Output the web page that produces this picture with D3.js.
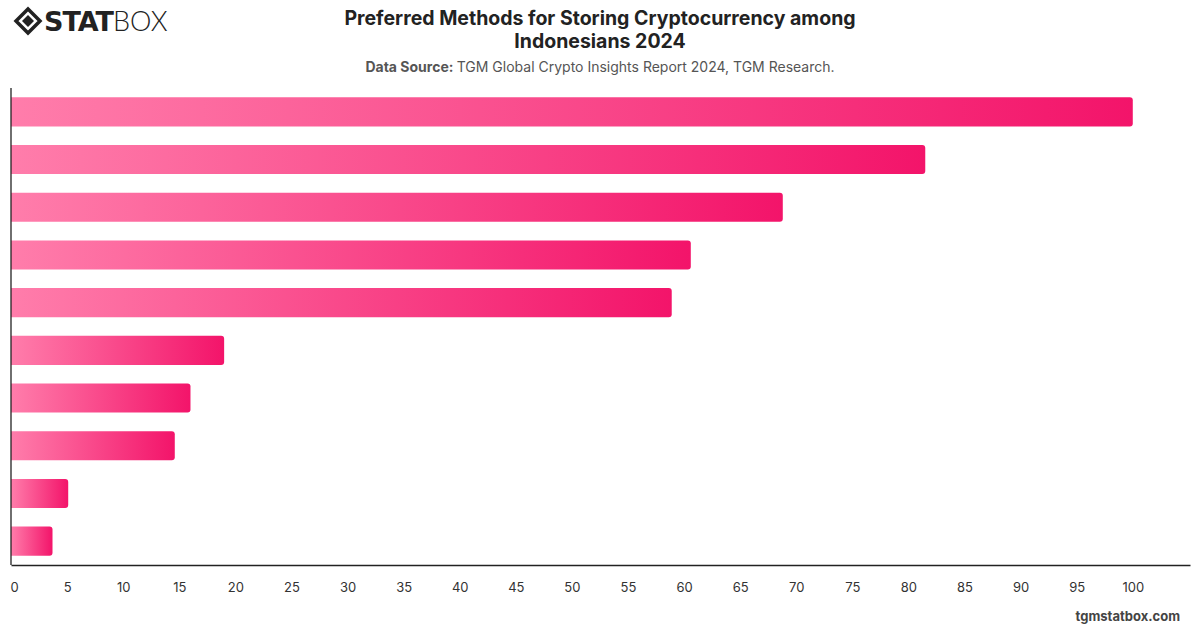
<!DOCTYPE html>
<html>
<head>
<meta charset="utf-8">
<script src="https://cdn.jsdelivr.net/npm/d3@7"></script>
<style>
  html, body { margin: 0; padding: 0; background: #fff; }
  #chart { width: 1200px; height: 628px; }
  text { font-family: Inter, "Noto Sans", sans-serif; }
</style>
</head>
<body>
<div id="chart"></div>
<script>
// categories are not printed on the chart, only the bars
const categories = ["Method 1", "Method 2", "Method 3", "Method 4", "Method 5",
  "Method 6", "Method 7", "Method 8", "Method 9", "Method 10"]
const values = [100, 81.5, 68.8, 60.6, 58.9, 19.0, 16.0, 14.6, 5.1, 3.7]
const xTicks = d3.range(0, 101, 5)

const width = 1200
const height = 628
const margin = {top: 88, right: 10, bottom: 63, left: 11}

const svg = d3.select("#chart").append("svg")
  .attr("width", width)
  .attr("height", height)

const x = d3.scaleLinear()
  .domain([0, 105.1])
  .range([margin.left, width - margin.right])

const y = d3.scaleBand()
  .domain(categories)
  .range([margin.top, height - margin.bottom])
  .paddingInner(0.39)
  .paddingOuter(0.195)

const defs = svg.append("defs")
const grad = defs.append("linearGradient")
  .attr("id", "barGrad")
  .attr("x1", "0%").attr("x2", "100%")
  .attr("y1", "0%").attr("y2", "0%")
grad.append("stop").attr("offset", "0%").attr("stop-color", "#ff7dab")
grad.append("stop").attr("offset", "100%").attr("stop-color", "#f3146a")

// bars, only the right corners rounded
const r = 3
const data = categories.map((c, i) => ({name: c, value: values[i]}))
svg.append("g")
  .selectAll("path")
  .data(data)
  .join("path")
  .attr("fill", "url(#barGrad)")
  .attr("d", d => {
    const x0 = x(0), x1 = x(d.value)
    const y0 = y(d.name), h = y.bandwidth()
    return `M${x0},${y0}H${x1 - r}Q${x1},${y0} ${x1},${y0 + r}V${y0 + h - r}Q${x1},${y0 + h} ${x1 - r},${y0 + h}H${x0}Z`
  })
  .append("title")
  .text(d => `${d.name}: ${d.value}`)

// axes
const xAxis = svg.append("g")
  .attr("transform", `translate(0,${height - margin.bottom})`)
  .call(d3.axisBottom(x).tickValues(xTicks).tickSize(0).tickPadding(18))
xAxis.select(".domain").attr("stroke", "#222").attr("stroke-width", 1.3)
xAxis.selectAll("text")
  .attr("font-size", 13)
  .attr("fill", "#333")
  .attr("dx", d => d === 0 ? 3 : 0)
  .style("font-family", "Inter, sans-serif")

svg.append("line")
  .attr("x1", margin.left).attr("x2", margin.left)
  .attr("y1", margin.top).attr("y2", height - margin.bottom)
  .attr("stroke", "#222")
  .attr("stroke-width", 1.3)

// titles
svg.append("text")
  .attr("x", 600).attr("y", 25)
  .attr("text-anchor", "middle")
  .attr("font-size", 19.5)
  .attr("font-weight", 700)
  .attr("fill", "#222")
  .text("Preferred Methods for Storing Cryptocurrency among")
svg.append("text")
  .attr("x", 600).attr("y", 48)
  .attr("text-anchor", "middle")
  .attr("font-size", 19.5)
  .attr("font-weight", 700)
  .attr("fill", "#222")
  .text("Indonesians 2024")

const sub = svg.append("text")
  .attr("x", 600).attr("y", 72)
  .attr("text-anchor", "middle")
  .attr("font-size", 14)
  .attr("fill", "#555")
sub.append("tspan").attr("font-weight", 700).text("Data Source: ")
sub.append("tspan").text("TGM Global Crypto Insights Report 2024, TGM Research.")

svg.append("text")
  .attr("x", 1180).attr("y", 621)
  .attr("text-anchor", "end")
  .attr("font-size", 13)
  .attr("font-weight", 700)
  .attr("fill", "#444")
  .text("tgmstatbox.com")

// logo
const logo = svg.append("g").attr("transform", "translate(28,21)")
logo.append("path")
  .attr("d", "M0,-12 L12,0 L0,12 L-12,0 Z")
  .attr("fill", "none").attr("stroke", "#222").attr("stroke-width", 3.5)
logo.append("path")
  .attr("d", "M0,-6 L6,0 L0,6 L-6,0 Z")
  .attr("fill", "#222")
const logoText = svg.append("text")
  .attr("x", 44).attr("y", 31)
  .attr("font-size", 27)
  .attr("fill", "#222")
  .style("font-family", "'DejaVu Sans', sans-serif")
logoText.append("tspan").attr("font-weight", 900).attr("letter-spacing", -1).text("STAT")
logoText.append("tspan").attr("font-weight", 300).style("font-family", "Lato, sans-serif").text("BOX")
</script>
</body>
</html>
